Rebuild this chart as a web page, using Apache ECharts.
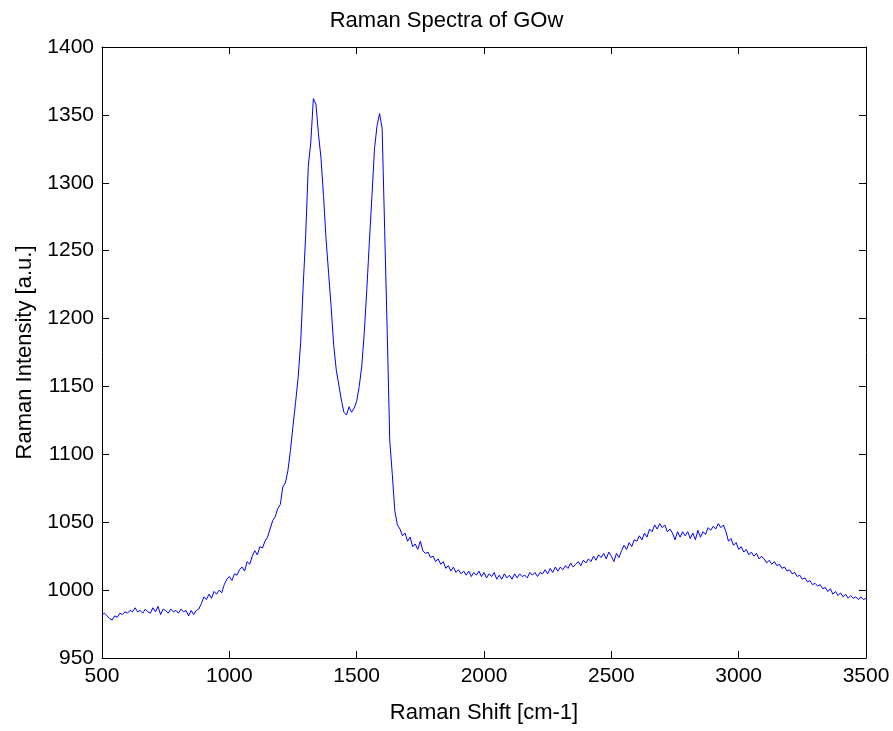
<!DOCTYPE html>
<html>
<head>
<meta charset="utf-8">
<title>Raman Spectra of GOw</title>
<script src="https://cdn.jsdelivr.net/npm/echarts@6/dist/echarts.min.js"></script>
<style>
    html, body { margin: 0; padding: 0; background: #fff; }
    #ramanChart { width: 893px; height: 731px; }
</style>
</head>
<body>
<div id="ramanChart"></div>
<script>
//x轴：拉曼位移，起点和步长
var shiftStart = 500;
var shiftStep = 10;
//y轴：强度（从图上读出，每10 cm-1一个点）
var intensity = [
    982, 983, 981, 979, 978, 981, 980, 983, 982, 984,
    983, 985, 984, 987, 984, 985, 983, 986, 984, 983,
    987, 984, 988, 982, 986, 985, 983, 986, 984, 985,
    983, 986, 984, 985, 981, 985, 982, 985, 986, 990,
    995, 993, 997, 994, 999, 997, 1000, 998, 1004, 1008,
    1010, 1007, 1012, 1011, 1015, 1017, 1014, 1021, 1019, 1025,
    1029, 1026, 1032, 1031, 1036, 1039, 1045, 1051, 1054, 1060,
    1063, 1076, 1079, 1088, 1103, 1121, 1138, 1156, 1182, 1224,
    1262, 1312, 1330, 1362, 1358, 1336, 1318, 1290, 1258, 1233,
    1208, 1180, 1162, 1151, 1140, 1131, 1129, 1135, 1131, 1134,
    1139, 1150, 1165, 1190, 1222, 1257, 1290, 1325, 1342, 1351,
    1340, 1265, 1190, 1110, 1085, 1058, 1048, 1045, 1040, 1042,
    1036, 1039, 1032, 1034, 1030, 1036, 1029, 1027, 1028, 1024,
    1025, 1021, 1023, 1019, 1021, 1016, 1018, 1014, 1017, 1013,
    1015, 1012, 1014, 1011, 1014, 1010, 1013, 1011, 1014, 1010,
    1013, 1009, 1012, 1010, 1013, 1008, 1011, 1008, 1012, 1009,
    1011, 1008, 1012, 1009, 1012, 1010, 1011, 1009, 1013, 1011,
    1013, 1010, 1013, 1012, 1015, 1012, 1016, 1013, 1017, 1014,
    1017, 1015, 1018, 1016, 1020, 1017, 1019, 1021, 1018, 1022,
    1020, 1023, 1021, 1025, 1022, 1026, 1024, 1027, 1023, 1028,
    1025, 1021, 1027, 1024, 1029, 1033, 1030, 1035, 1032, 1037,
    1036, 1040, 1037, 1042, 1039, 1045, 1043, 1048, 1045, 1049,
    1046, 1048, 1043, 1045, 1042, 1037, 1043, 1039, 1043, 1040,
    1043, 1038, 1042, 1037, 1044, 1039, 1043, 1041, 1046, 1044,
    1047, 1045, 1049, 1046, 1048, 1043, 1036, 1038, 1033, 1035,
    1030, 1032, 1028, 1030, 1026, 1028, 1025, 1027, 1023, 1025,
    1023, 1020, 1022, 1019, 1021, 1018, 1019, 1016, 1017, 1014,
    1015, 1012, 1013, 1010, 1011, 1008, 1009, 1006, 1007, 1004,
    1005, 1003, 1004, 1001, 1002, 999, 1001, 997, 999, 996,
    998, 995, 997, 994, 996, 994, 995, 993, 995, 993,
    994
];
//坐标轴范围
var xMin = 500, xMax = 3500, xInterval = 500;
var yMin = 950, yMax = 1400, yInterval = 50;

var fontName = 'Liberation Sans, Arial, Helvetica, sans-serif';

//组装 [x, y] 数据
var spectrum = [];
for (var i = 0; i < intensity.length; i++) {
    spectrum.push([shiftStart + i * shiftStep, intensity[i]]);
}

var myChart = echarts.init(document.getElementById('ramanChart'));

//刻度朝内，四周都画框
function boxAxis(extra) {
    var axis = {
        type: 'value',
        axisLine: { show: true, onZero: false, lineStyle: { color: '#000', width: 1 } },
        axisTick: { show: true, inside: true, length: 7, lineStyle: { color: '#000' } },
        splitLine: { show: false },
        axisLabel: {
            color: '#000', fontSize: 21, fontFamily: fontName, margin: 8,
            formatter: function (v) { return String(v); }
        }
    };
    for (var k in extra) axis[k] = extra[k];
    return axis;
}

var option = {
    animation: false,
    backgroundColor: '#fff',
    title: {
        text: 'Raman Spectra of GOw',
        left: 'center',
        top: 10,
        padding: 0,
        textStyle: { color: '#000', fontSize: 22, fontWeight: 'normal', fontFamily: fontName }
    },
    grid: { left: 102, right: 27, top: 47, bottom: 73, containLabel: false, outerBoundsMode: 'none' },
    xAxis: [
        boxAxis({
            min: xMin, max: xMax, interval: xInterval, position: 'bottom',
            name: 'Raman Shift [cm-1]', nameLocation: 'middle', nameGap: 44,
            nameTextStyle: { color: '#000', fontSize: 22, fontFamily: fontName }
        }),
        boxAxis({
            min: xMin, max: xMax, interval: xInterval, position: 'top',
            axisLabel: { show: false }
        })
    ],
    yAxis: [
        boxAxis({
            min: yMin, max: yMax, interval: yInterval, position: 'left',
            name: 'Raman Intensity [a.u.]', nameLocation: 'middle', nameGap: 64,
            nameTextStyle: { color: '#000', fontSize: 22, fontFamily: fontName }
        }),
        boxAxis({
            min: yMin, max: yMax, interval: yInterval, position: 'right',
            axisLabel: { show: false }
        })
    ],
    series: [{
        name: 'GOw',
        type: 'line',
        xAxisIndex: 0,
        yAxisIndex: 0,
        showSymbol: false,
        symbol: 'none',
        lineStyle: { color: '#0000ff', width: 1 },
        data: spectrum
    }]
};

myChart.setOption(option);
</script>
</body>
</html>
